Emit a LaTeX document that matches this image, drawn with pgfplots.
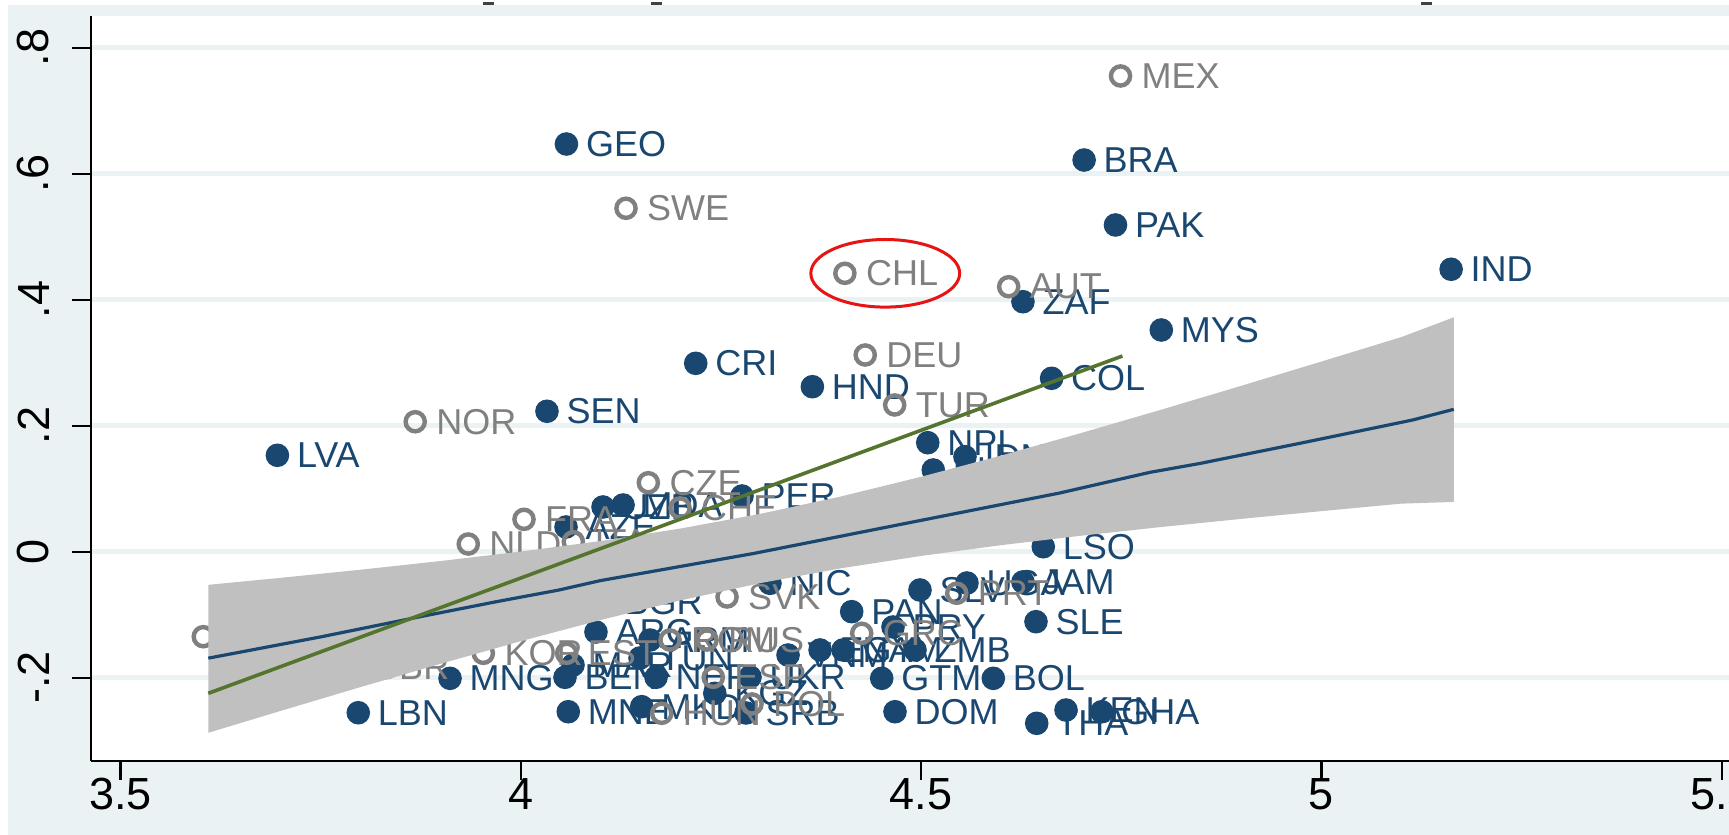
\documentclass[border=0pt]{standalone}
\usepackage{fontspec}
\setmainfont{Liberation Sans}
\usepackage{pgfplots}
\pgfplotsset{compat=1.18}
\usepackage{pgfplotstable}
\definecolor{bgc}{RGB}{234,242,243}
\definecolor{navyc}{RGB}{26,71,111}
\definecolor{grayc}{RGB}{128,128,128}
\definecolor{bandc}{RGB}{192,192,192}
\definecolor{greenc}{RGB}{85,117,47}
\definecolor{redc}{RGB}{232,20,20}
\newcommand{\lblfont}{\fontsize{18}{18}\selectfont}

\pgfplotstableread{
x y lab
4.0570 0.6471 GEO
4.7036 0.6217 BRA
4.7428 0.5186 PAK
5.1620 0.4483 IND
4.6272 0.3968 ZAF
4.8000 0.3519 MYS
4.2185 0.2990 CRI
4.3642 0.2619 HND
4.6630 0.2752 COL
4.0327 0.2229 SEN
3.6960 0.1530 LVA
4.5083 0.1730 NPL
4.5548 0.1508 IDN
4.5152 0.1297 PHL
4.2763 0.0884 PER
4.6526 0.0079 LSO
4.0565 0.0392 AZE
4.1027 0.0710 UZB
4.1277 0.0741 MDA
4.1052 -0.0800 BGR
4.3112 -0.0502 NIC
4.4986 -0.0608 SLV
4.5573 -0.0497 UGA
4.6272 -0.0481 JAM
4.4133 -0.0952 PAN
4.4649 -0.1195 PRY
4.6435 -0.1111 SLE
4.0939 -0.1275 ARG
4.1614 -0.1402 ARM
4.0652 -0.1798 MAR
4.1489 -0.1687 TUN
4.3338 -0.1640 VNM
4.3738 -0.1560 EGY
4.4025 -0.1560 NAM
4.4924 -0.1560 ZMB
3.9116 -0.2010 MNG
4.0552 -0.1994 BEN
4.1689 -0.1994 NER
4.2863 -0.1989 UKR
4.2423 -0.2248 KGZ
4.4508 -0.2010 GTM
4.5902 -0.2010 BOL
4.4674 -0.2540 DOM
4.2813 -0.2560 SRB
4.0593 -0.2540 MNE
4.1510 -0.2460 MKD
3.7970 -0.2556 LBN
4.6444 -0.2724 THA
4.6810 -0.2513 KEN
4.7256 -0.2540 GHA
}\navydata

\pgfplotstableread{
x y lab
4.7491 0.7551 MEX
4.1314 0.5451 SWE
4.4048 0.4419 CHL
4.6094 0.4206 AUT
4.4302 0.3122 DEU
4.4670 0.2329 TUR
3.8681 0.2063 NOR
4.1593 0.1095 CZE
4.0040 0.0514 FRA
3.9344 0.0122 NLD
4.0656 0.0159 ITA
4.1989 0.0694 CHE
4.2576 -0.0719 SVK
4.5445 -0.0660 PRT
4.4258 -0.1295 GRC
3.9532 -0.1613 KOR
4.0573 -0.1613 EST
4.1864 -0.1402 ROM
4.2326 -0.1402 RUS
4.2404 -0.1994 ESP
4.2888 -0.2417 POL
4.1760 -0.2565 HUN
3.6034 -0.1349 ISR
3.7867 -0.1830 GBR
}\graydata

\pgfplotsset{
  common/.style={
    at={(45.35pt,37pt)}, anchor=south west,
    scale only axis, width=834.65pt, height=372.5pt,
    xmin=3.46278, xmax=5.54784, ymin=-0.33222, ymax=0.85032,
  }
}

\begin{document}
\begin{tikzpicture}
\fill[white] (0pt,0pt) rectangle (864.5pt,417.5pt);
\fill[bgc] (3.85pt,0pt) rectangle (864.5pt,415pt);
\fill[black!75] (241.5pt,415pt) rectangle (247pt,416.5pt);
\fill[black!75] (325.5pt,415pt) rectangle (331pt,416.5pt);
\fill[black!75] (710.5pt,415pt) rectangle (716pt,416.5pt);
\begin{axis}[
  common,
  axis x line=bottom, axis y line=left,
  axis line style={-, black, line width=1.1pt},
  axis background/.style={fill=white},
  xtick={3.5,4,4.5,5,5.5}, xticklabels={3.5,4,4.5,5,5.5},
  ytick={-0.2,0,0.2,0.4,0.6,0.8}, yticklabels={-.2,0,.2,.4,.6,.8},
  tick align=outside, major tick length=9.5pt,
  tick style={black, line width=1.1pt},
  ticklabel style={font=\fontsize{22.5}{22.5}\selectfont, inner sep=0pt},
  xticklabel style={anchor=north},
  yticklabel style={rotate=90, anchor=south},
  xticklabel shift=-1pt, yticklabel shift=11pt,
  ymajorgrids, major grid style={bgc, line width=2.8pt},
]
% navy scatter
\addplot[only marks, mark=*, mark size=5.6pt,
  mark options={draw=navyc, fill=navyc, line width=0.6pt},
  nodes near coords, point meta=explicit symbolic,
  every node near coord/.append style={anchor=west, inner sep=0pt, xshift=9.5pt, font=\lblfont, text=navyc}]
  table[x=x, y=y, meta=lab] {\navydata};
% gray hollow scatter
\addplot[only marks, mark=o, mark size=4.8pt,
  mark options={draw=grayc, line width=2.2pt},
  nodes near coords, point meta=explicit symbolic,
  every node near coord/.append style={anchor=west, inner sep=0pt, xshift=9.5pt, font=\lblfont, text=grayc}]
  table[x=x, y=y, meta=lab] {\graydata};
\end{axis}
\begin{axis}[common, hide axis]
% confidence band
\addplot[fill=bandc, draw=none] coordinates {
 (3.6097,-0.0526) (3.7,-0.0415) (3.8,-0.0286) (3.9,-0.0148) (4.0,0.0002) (4.1,0.0170)
 (4.2,0.0369) (4.3,0.0603) (4.4,0.0877) (4.5,0.1189) (4.6,0.1526) (4.7,0.1884)
 (4.8,0.2254) (4.9,0.2633) (5.0,0.3018) (5.1,0.3407) (5.1653,0.3720)
 (5.1653,0.0790) (5.1,0.0763) (5.0,0.0644) (4.9,0.0521) (4.8,0.0392) (4.7,0.0254)
 (4.6,0.0104) (4.5,-0.0067) (4.4,-0.0263) (4.3,-0.0497) (4.2,-0.0771) (4.1,-0.1083)
 (4.0,-0.1420) (3.9,-0.1778) (3.8,-0.2148) (3.7,-0.2527) (3.6097,-0.2874)
} -- cycle;
% fitted line (navy)
\addplot[navyc, line width=1.6pt] coordinates {
 (3.6097,-0.169) (3.751,-0.135) (3.875,-0.103) (3.971,-0.079) (4.047,-0.061)
 (4.099,-0.046) (4.29,-0.003) (4.481,0.045) (4.6725,0.093) (4.786,0.126)
 (4.848,0.140) (4.973,0.172) (5.1138,0.209) (5.1653,0.226)
};
% linear fit (green)
\addplot[greenc, line width=1.8pt] coordinates {(3.6097,-0.2248) (4.7514,0.3106)};
\draw[redc, line width=1.5pt] (axis cs:4.4552,0.4419) ellipse [x radius=37.2pt, y radius=16.9pt];
\end{axis}
\pgfresetboundingbox
\path[use as bounding box] (0pt,0pt) rectangle (864.5pt,417.5pt);
\end{tikzpicture}
\end{document}
